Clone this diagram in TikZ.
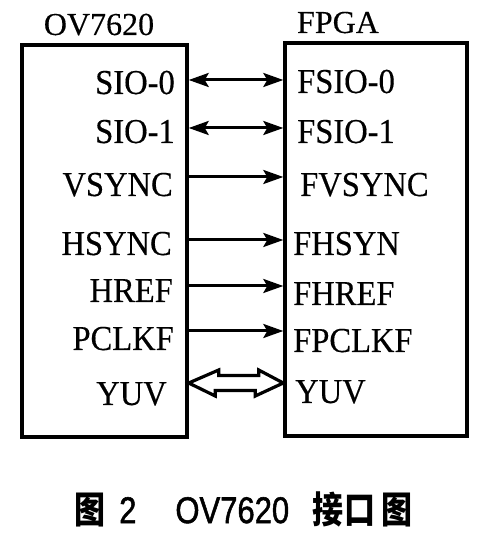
\documentclass[tikz,border=0pt]{standalone}
\usepackage{fontspec}
\setmainfont{Liberation Serif}[FakeBold=0.3]
\newfontfamily\pinfont[FakeStretch=0.93,FakeBold=0.35]{Liberation Serif}
\newfontfamily\capsans[FakeBold=1.5]{Liberation Sans}
\newfontfamily\cjk{Noto Sans CJK SC}
\usetikzlibrary{arrows.meta}

\begin{document}
\begin{tikzpicture}[x=1pt,y=1pt,
  chip/.style={draw,line width=3.4pt,inner sep=0},
  pin/.style={font=\pinfont\fontsize{35}{40}\selectfont,inner sep=0},
  ttl/.style={font=\fontsize{32}{36}\selectfont,inner sep=0,anchor=base},
  sig/.style={line width=3pt,-{Stealth[length=20pt,width=14pt,inset=4pt]}},
  sigtwo/.style={line width=3pt,{Stealth[length=20pt,width=14pt,inset=4pt]}-{Stealth[length=20pt,width=14pt,inset=4pt]}},
  bus/.style={line width=3.2pt,line join=miter}]
\useasboundingbox (0,0) rectangle (485,540);
% the two chips
\node[chip,minimum width=165pt,minimum height=392pt] (ov) at (104.5,299) {};
\node[chip,minimum width=182pt,minimum height=393pt] (fpga) at (376,300.5) {};
\node[ttl] (ovname) at (99,505) {OV7620};
\node[ttl] (fpganame) at (338,507) {FPGA};
% pins: name/arrow y/left baseline/left x/left text/right baseline/right x/right text
\foreach \n/\y/\bl/\xl/\la/\br/\xr/\lb in {1/460/446/175/SIO-0/447/297/FSIO-0,2/412/397/175/SIO-1/397/297/FSIO-1,3/363/344/173/VSYNC/344/300/FVSYNC,4/300/285/172/HSYNC/285/293/FHSYN,5/254/238/173/HREF/235/293/FHREF,6/209/190/174/PCLKF/188/293/FPCLKF,7/157/135/167/YUV/137/295/YUV}{
  \node[pin,anchor=base east] (l\n) at (\xl,\bl) {\la};
  \node[pin,anchor=base west] (r\n) at (\xr,\br) {\lb};
  \coordinate (a\n) at (ov.east |- 0,\y);
  \coordinate (b\n) at (fpga.west |- 0,\y);
}
\foreach \n in {1,2}{\draw[sigtwo] (a\n) -- (b\n);}
\foreach \n in {3,4,5,6}{\draw[sig] (a\n) -- (b\n);}
% hollow bus arrow for YUV
\draw[bus] (a7) -- ++(30,13) -- ++(0,-5.5) -- ++(40,0) -- ++(0,5.5) -- (b7) -- ++(-28,-13) -- ++(0,5.5) -- ++(-40,0) -- ++(0,-5.5) -- cycle;
\node[inner sep=0,anchor=west] (cap) at (74,31) {\scalebox{1}[1.2]{\fontsize{31}{31}\selectfont{\cjk\bfseries 图}\hspace{14pt}{\capsans 2}\hspace{39pt}{\capsans OV7620}\hspace{23pt}{\cjk\bfseries 接}\hspace{1pt}{\cjk\bfseries 口}\hspace{6pt}{\cjk\bfseries 图}}};
\end{tikzpicture}
\end{document}
